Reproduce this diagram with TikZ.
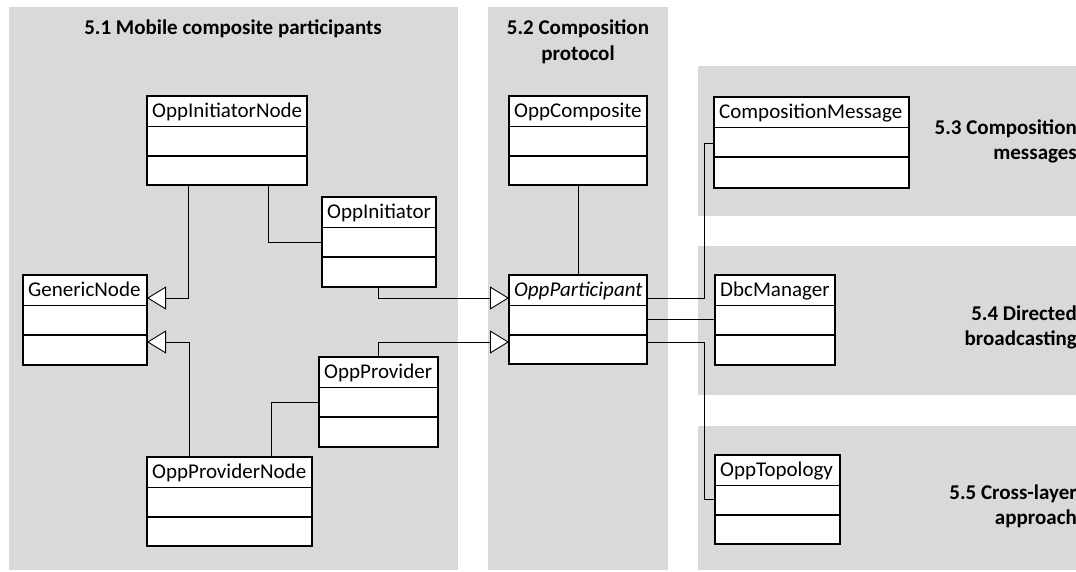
\documentclass[tikz,border=0pt]{standalone}
\usepackage{fontspec}
\setmainfont{Carlito}
\usetikzlibrary{arrows.meta}
\definecolor{panelgray}{HTML}{D9D9D9}
\tikzset{
  panel/.style={fill=panelgray, draw=none},
  classbox/.style={draw=black, fill=white, line width=1.6pt, outer sep=0pt, inner sep=0pt},
  classline/.style={line width=1.6pt},
  classtitle/.style={font=\fontsize{21pt}{25pt}\selectfont, inner sep=0pt, anchor=base west},
  paneltitle/.style={font=\bfseries\fontsize{21pt}{25pt}\selectfont, inner sep=0pt},
  conn/.style={line width=0.9pt, draw=black},
  gen/.style={conn, -{Triangle[length=19pt, width=23pt, fill=white, line width=0.9pt]}},
}
\newcommand\umlclass[6]{%
  \node[classbox, minimum width=#4pt, minimum height=#5pt, anchor=north west] (#1) at (#2,#3) {};
  \draw[classline] ([yshift=-30.5pt]#1.north west) -- ([yshift=-30.5pt]#1.north east);
  \draw[classline] ([yshift=-60pt]#1.north west) -- ([yshift=-60pt]#1.north east);
  \node[classtitle] (#1-t) at ([xshift=5pt,yshift=-21.5pt]#1.north west) {#6};
}
\begin{document}
\begin{tikzpicture}[x=1pt,y=-1pt]
  \useasboundingbox (0,0) rectangle (1076,571);
  \clip (0,0) rectangle (1076,571);
  % panels
  \fill[panel] (9,7) rectangle (458,570);
  \fill[panel] (488,7) rectangle (668,570);
  \fill[panel] (698,66) rectangle (1076,216);
  \fill[panel] (698,246) rectangle (1076,395);
  \fill[panel] (698,426) rectangle (1076,570);
  % panel titles
  \node[paneltitle, anchor=base] (t51) at (233,34.5) {5.1 Mobile composite participants};
  \node[paneltitle, anchor=base] (t52a) at (578,34.5) {5.2 Composition};
  \node[paneltitle, anchor=base] (t52b) at (578,60) {protocol};
  \node[paneltitle, anchor=base east] (t53a) at (1077,134.5) {5.3 Composition};
  \node[paneltitle, anchor=base east] (t53b) at (1077,159) {messages};
  \node[paneltitle, anchor=base east] (t54a) at (1077,320.5) {5.4 Directed};
  \node[paneltitle, anchor=base east] (t54b) at (1077,345) {broadcasting};
  \node[paneltitle, anchor=base east] (t55a) at (1077,499.5) {5.5 Cross-layer};
  \node[paneltitle, anchor=base east] (t55b) at (1077,524) {approach};
  % classes
  \umlclass{InitNode}{147}{96}{160}{89}{OppInitiatorNode}
  \umlclass{Init}{322}{197}{114}{90}{OppInitiator}
  \umlclass{Generic}{23}{275}{124}{90}{GenericNode}
  \umlclass{Prov}{319}{357}{119}{90}{OppProvider}
  \umlclass{ProvNode}{147}{457}{165}{89}{OppProviderNode}
  \umlclass{Comp}{509}{96}{138}{89}{OppComposite}
  \umlclass{Part}{509}{275}{138}{89}{\textit{OppParticipant}}
  \umlclass{CompMsg}{714}{97}{195}{91}{CompositionMessage}
  \umlclass{Dbc}{715}{275}{120}{90}{DbcManager}
  \umlclass{Topo}{715}{455}{125}{89}{OppTopology}
  % bend points
  \coordinate (b1) at (704,298);
  \coordinate (b2) at (704,342);
  % connectors
  \draw[gen] ([xshift=41pt]InitNode.south west) |- ([yshift=-23pt]Generic.north east);
  \draw[conn] ([xshift=121pt]InitNode.south west) |- ([yshift=-45pt]Init.north west);
  \draw[gen] ([xshift=42pt]ProvNode.north west) |- ([yshift=-67pt]Generic.north east);
  \draw[conn] ([xshift=124pt]ProvNode.north west) |- ([yshift=-45pt]Prov.north west);
  \draw[gen] ([xshift=56pt]Init.south west) |- ([yshift=-23pt]Part.north west);
  \draw[gen] ([xshift=59pt]Prov.north west) |- ([yshift=-67pt]Part.north west);
  \draw[conn] ([xshift=69pt]Comp.south west) -- ([xshift=69pt]Part.north west);
  \draw[conn] ([yshift=-23pt]Part.north east) -- (b1) |- ([yshift=-46pt]CompMsg.north west);
  \draw[conn] ([yshift=-44pt]Part.north east) -- ([yshift=-44pt]Dbc.north west);
  \draw[conn] ([yshift=-67pt]Part.north east) -- (b2) |- ([yshift=-44pt]Topo.north west);
\end{tikzpicture}
\end{document}
